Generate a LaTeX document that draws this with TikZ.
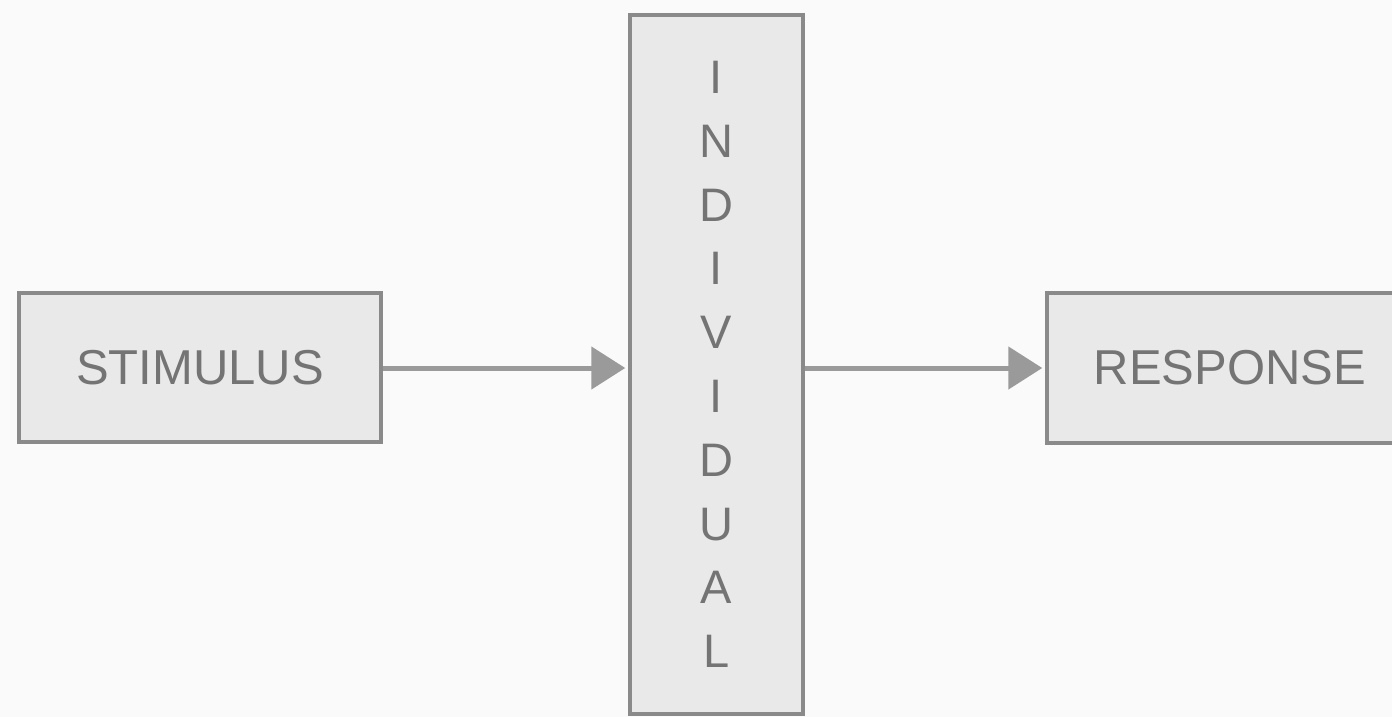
\documentclass[tikz,border=0pt]{standalone}
\usepackage{fontspec}
\setmainfont{Liberation Sans}
\usetikzlibrary{arrows.meta}
\definecolor{bg}{HTML}{FAFAFA}
\definecolor{boxfill}{HTML}{E9E9E9}
\definecolor{boxline}{HTML}{8A8A8A}
\definecolor{txt}{HTML}{747474}
\definecolor{arr}{HTML}{9A9A9A}
\tikzset{
  blockbox/.style={draw=boxline, fill=boxfill, line width=3.5pt, inner sep=0pt,
    text=txt, font=\fontsize{49}{58}\selectfont},
  flowarrow/.style={draw=arr, line width=5pt,
    -{Triangle[length=34pt,width=42pt]}, shorten >=3pt}
}
\begin{document}
\begin{tikzpicture}[x=1pt,y=-1pt]
\useasboundingbox (0,0) rectangle (1392,717);
\clip (0,0) rectangle (1392,717);
\fill[bg] (0,0) rectangle (1392,717);
\node[blockbox, minimum width=362pt, minimum height=149pt] (stim) at (200,367.5) {STIMULUS};
\node[blockbox, minimum width=173pt, minimum height=699pt, align=center,
  font=\fontsize{47}{63.8}\selectfont] (ind) at (716.5,364.5)
  {I\\N\\D\\I\\V\\I\\D\\U\\A\\L};
\node[blockbox, minimum width=380pt, minimum height=150pt, text width=380pt, align=center] (resp) at (1237,368)
  {\hspace*{-14pt}RESPONSE};
\draw[flowarrow] (stim.east |- 0,368) -- (ind.west |- 0,368);
\draw[flowarrow] (ind.east |- 0,368) -- (resp.west |- 0,368);
\end{tikzpicture}
\end{document}
